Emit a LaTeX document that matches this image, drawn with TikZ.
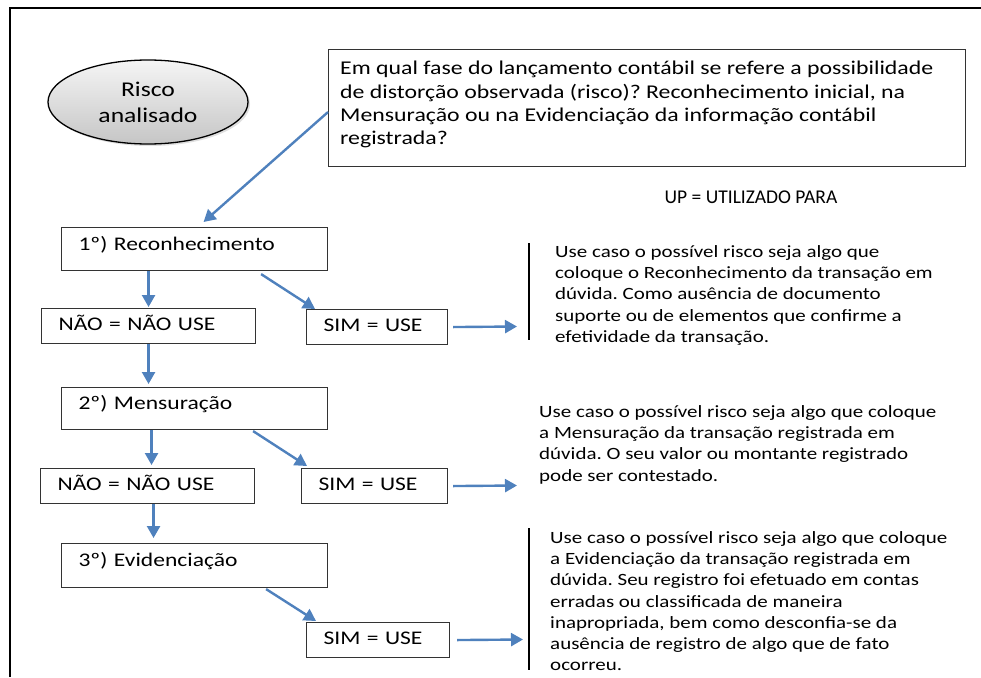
\documentclass[tikz,border=0pt]{standalone}
\usepackage{fontspec}
\setmainfont[FakeStretch=1.22]{Carlito}
\newfontfamily\upfont{Carlito}
\usetikzlibrary{arrows.meta,shadows,shapes.geometric,calc}
\definecolor{arrblue}{HTML}{4F81BD}
\frenchspacing
\tikzset{
  box/.style={draw=black!80, line width=1.1pt, fill=white, rectangle, anchor=north west,
    align=left, inner xsep=17pt, inner ysep=0pt, font=\fontsize{19.3}{23.2}\selectfont,
    text height=13pt, text depth=4pt},
  stagebox/.style={box, text depth=11pt},
  arr/.style={draw=arrblue, line width=2.4pt, -{Triangle[length=12pt,width=13pt]}},
  desc/.style={anchor=north west, inner sep=0pt, align=left, font=\fontsize{17.2}{21.3}\selectfont},
  bar/.style={line width=2pt, draw=black}
}
\begin{document}
\begin{tikzpicture}[x=1pt,y=1pt]
\useasboundingbox (0,0) rectangle (981,-677);
\fill[white] (0,0) rectangle (981,-677);
% outer frame
\draw[line width=2.5pt] (10,-677) -- (10,-8) -- (981,-8);

% ellipse
\node[ellipse, draw=black, line width=1.3pt, minimum width=200pt, minimum height=84pt,
  top color=gray!8, bottom color=gray!45, align=center,
  drop shadow={opacity=0.25, shadow xshift=2pt, shadow yshift=-2pt},
  font=\fontsize{21}{26}\selectfont] (risco) at (148,-102) {Risco\\analisado};

% question box
\node[draw=black!80, line width=1.1pt, rectangle, anchor=north west,
  minimum width=637pt, minimum height=117pt, inner sep=0pt] (Q) at (328,-49) {};
\node[anchor=north west, inner sep=0pt, align=left,
  font=\fontsize{19.5}{23.4}\selectfont] (qtext) at (340,-61)
  {Em qual fase do lançamento contábil se refere a possibilidade\\
   de distorção observada (risco)? Reconhecimento inicial, na\\
   Mensuração ou na Evidenciação da informação contábil\\
   registrada?};

\node[font=\upfont\fontsize{19.5}{23}\selectfont, inner sep=0pt] (up) at (751,-197) {UP = UTILIZADO PARA};

% boxes
\node[stagebox, text width=232pt, minimum height=43pt] (box1) at (61,-227) {1º) Reconhecimento};
\node[box, text width=180pt, minimum height=35pt] (NAO1) at (41,-308) {NÃO = NÃO USE};
\node[box, text width=107pt, minimum height=35pt] (SIM1) at (306,-309) {SIM = USE};
\node[stagebox, text width=232pt, minimum height=42pt] (box2) at (61,-387) {2º) Mensuração};
\node[box, text width=180pt, minimum height=35pt] (NAO2) at (40,-468) {NÃO = NÃO USE};
\node[box, text width=112pt, minimum height=35pt] (SIM2) at (301,-468) {SIM = USE};
\node[stagebox, text width=232pt, minimum height=44pt] (box3) at (61,-543) {3º) Evidenciação};
\node[box, text width=109pt, minimum height=35pt] (SIM3) at (306,-622) {SIM = USE};

% descriptions
\node[desc] (desc1) at (555,-245) {Use caso o possível risco seja algo que\\
coloque o Reconhecimento da transação em\\
dúvida. Como ausência de documento\\
suporte ou de elementos que confirme a\\
efetividade da transação.};
\node[desc] (desc2) at (539,-405) {Use caso o possível risco seja algo que coloque\\
a Mensuração da transação registrada em\\
dúvida. O seu valor ou montante registrado\\
pode ser contestado.};
\node[desc] (desc3) at (550,-531) {Use caso o possível risco seja algo que coloque\\
a Evidenciação da transação registrada em\\
dúvida. Seu registro foi efetuado em contas\\
erradas ou classificada de maneira\\
inapropriada, bem como desconfia-se da\\
ausência de registro de algo que de fato\\
ocorreu.};

% bars
\draw[bar] (529,-243) -- (529,-340);
\draw[bar] (529,-528) -- (529,-670);

% arrow targets
\coordinate (t1) at (517,-326.5);
\coordinate (t2) at (517,-485.5);
\coordinate (t3) at (523,-639.5);

% connectors
\draw[arr] ([yshift=-4pt]Q.west) -- ([shift={(9pt,5pt)}]box1.north);
\draw[arr] (NAO1.north |- box1.south) -- ([yshift=1pt]NAO1.north);
\draw[arr] ([shift={(-67pt,-3pt)}]box1.south east) -- ([shift={(9pt,0pt)}]SIM1.north west);
\draw[arr, shorten >=3pt] (NAO1.south) -- (NAO1.south |- box2.north);
\draw[arr] ([xshift=4pt]NAO2.north |- box2.south) -- ([shift={(4pt,3pt)}]NAO2.north);
\draw[arr] ([shift={(-75pt,-1pt)}]box2.south east) -- ([shift={(6pt,2pt)}]SIM2.north west);
\draw[arr, shorten >=5pt] ([xshift=6pt]NAO2.south) -- ([xshift=6pt]NAO2.south |- box3.north);
\draw[arr] ([shift={(-62pt,-1pt)}]box3.south east) -- ([shift={(10pt,1pt)}]SIM3.north west);
\draw[arr] ([xshift=5pt]SIM1.east) -- (t1);
\draw[arr] ([xshift=5pt]SIM2.east) -- (t2);
\draw[arr] ([xshift=7pt]SIM3.east) -- (t3);
\end{tikzpicture}
\end{document}
